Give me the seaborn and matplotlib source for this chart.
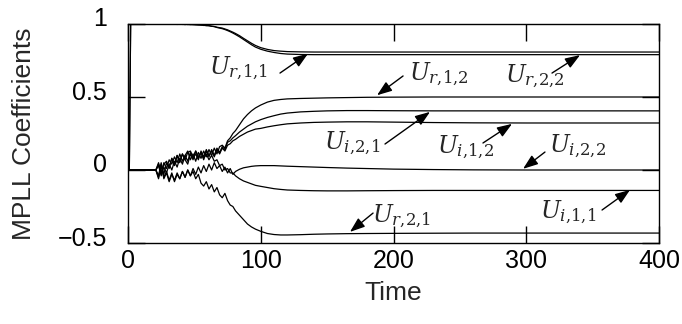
import numpy as np
import pandas as pd
import matplotlib
matplotlib.use("Agg")
import matplotlib.pyplot as plt
import matplotlib.transforms as mtransforms
import seaborn as sns

# ---------------- data ----------------
time = [0, 1, 2, 21, 23, 25, 27, 29, 31, 33, 35, 37, 39, 41, 43, 45, 47, 49,
        51, 53, 55, 57, 59, 61, 63, 65, 67, 69, 71, 73, 75, 77, 79, 81, 84, 87,
        90, 93, 96, 100, 105, 110, 115, 120, 130, 140, 150, 165, 180, 200, 230,
        260, 300, 350, 400]

ur11 = [0, 0, 1.0, 1.0, 0.998, 1.0, 0.999, 1.0, 0.998, 1.0, 0.999, 0.998, 1.0,
        0.997, 0.999, 0.996, 0.998, 0.995, 0.996, 0.993, 0.994, 0.99, 0.991,
        0.988, 0.985, 0.982, 0.978, 0.975, 0.972, 0.966, 0.96, 0.952, 0.944,
        0.935, 0.92, 0.902, 0.885, 0.868, 0.853, 0.838, 0.826, 0.818, 0.814,
        0.811, 0.809, 0.808, 0.808, 0.808, 0.808, 0.808, 0.808, 0.808, 0.808,
        0.808, 0.808]
ur22 = [0, 0, 1.0, 0.999, 1.0, 0.998, 1.0, 0.999, 1.0, 0.998, 1.0, 0.997, 0.999,
        0.998, 0.996, 0.998, 0.995, 0.997, 0.994, 0.995, 0.992, 0.992, 0.988,
        0.989, 0.984, 0.983, 0.976, 0.972, 0.968, 0.962, 0.955, 0.947, 0.938,
        0.928, 0.912, 0.894, 0.876, 0.858, 0.842, 0.827, 0.814, 0.805, 0.798,
        0.794, 0.791, 0.790, 0.790, 0.790, 0.790, 0.790, 0.790, 0.790, 0.790,
        0.790, 0.790]
ur12 = [0, 0, 0, 0, 0.04, -0.03, 0.05, 0.01, 0.07, 0.04, 0.09, 0.05, 0.11, 0.06,
        0.1, 0.13, 0.07, 0.11, 0.06, 0.12, 0.08, 0.13, 0.09, 0.14, 0.1, 0.15,
        0.11, 0.16, 0.17, 0.15, 0.2, 0.22, 0.25, 0.27, 0.31, 0.35, 0.38, 0.405,
        0.425, 0.445, 0.465, 0.477, 0.483, 0.487, 0.49, 0.492, 0.494, 0.496,
        0.498, 0.499, 0.5, 0.5, 0.5, 0.5, 0.5]
ui21 = [0, 0, 0, 0, -0.05, 0.04, -0.03, 0.05, 0.01, 0.08, 0.03, 0.1, 0.05, 0.11,
        0.07, 0.04, 0.11, 0.07, 0.13, 0.08, 0.12, 0.07, 0.13, 0.09, 0.14, 0.1,
        0.15, 0.12, 0.16, 0.14, 0.19, 0.2, 0.22, 0.235, 0.26, 0.28, 0.3, 0.315,
        0.33, 0.345, 0.36, 0.372, 0.383, 0.39, 0.398, 0.402, 0.405, 0.407,
        0.407, 0.406, 0.405, 0.405, 0.405, 0.405, 0.405]
ui12 = [0, 0, 0, 0, 0.03, -0.04, 0.02, -0.02, 0.04, 0.0, 0.06, 0.02, 0.08, 0.04,
        0.1, 0.06, 0.12, 0.08, 0.11, 0.07, 0.13, 0.09, 0.14, 0.1, 0.13, 0.09,
        0.14, 0.11, 0.15, 0.13, 0.17, 0.18, 0.2, 0.21, 0.23, 0.245, 0.26, 0.27,
        0.28, 0.285, 0.295, 0.303, 0.31, 0.316, 0.322, 0.326, 0.328, 0.33, 0.33,
        0.328, 0.325, 0.323, 0.322, 0.322, 0.322]
ui22 = [0, 0, 0, 0, -0.06, 0.03, -0.05, -0.01, -0.07, -0.02, -0.08, -0.03, -0.06,
        -0.01, -0.05, 0.0, -0.04, 0.01, -0.03, 0.02, -0.02, 0.03, -0.01, 0.04,
        0.0, 0.05, 0.01, 0.03, -0.01, 0.02, -0.02, 0.01, -0.03, -0.01, 0.005,
        0.015, 0.02, 0.025, 0.028, 0.03, 0.03, 0.03, 0.028, 0.026, 0.023, 0.02,
        0.017, 0.013, 0.01, 0.006, 0.003, 0.001, 0.0, 0.0, 0.0]
ui11 = [0, 0, 0, 0, 0.05, -0.02, 0.04, 0.06, 0.02, 0.08, 0.04, 0.1, 0.06, 0.11,
        0.07, 0.12, 0.13, 0.09, 0.13, 0.09, 0.12, 0.08, 0.11, 0.07, 0.1, 0.06,
        0.07, 0.03, 0.04, 0.0, 0.01, -0.02, -0.02, -0.04, -0.06, -0.075, -0.085,
        -0.095, -0.105, -0.112, -0.12, -0.128, -0.133, -0.137, -0.14, -0.142,
        -0.143, -0.143, -0.142, -0.141, -0.14, -0.14, -0.14, -0.14, -0.14]
ur21 = [0, 0, 0, 0, -0.04, 0.05, -0.06, -0.02, -0.08, -0.03, -0.07, -0.02, -0.06,
        -0.01, -0.05, 0.0, -0.04, -0.01, -0.06, -0.03, -0.09, -0.11, -0.08,
        -0.13, -0.1, -0.15, -0.12, -0.17, -0.19, -0.16, -0.21, -0.24, -0.25,
        -0.28, -0.31, -0.34, -0.37, -0.39, -0.405, -0.42, -0.435, -0.442,
        -0.445, -0.445, -0.443, -0.44, -0.438, -0.436, -0.435, -0.434, -0.433,
        -0.432, -0.432, -0.432, -0.432]

series_names = ["ur11", "ur22", "ur12", "ui21", "ui12", "ui22", "ui11", "ur21"]
series_values = [ur11, ur22, ur12, ui21, ui12, ui22, ui11, ur21]

x_ticks = [0, 100, 200, 300, 400]
y_ticks = [-0.5, 0, 0.5, 1]

# labels: (text, text position, arrow tail, arrow head)
labels = [
    (r"$U_{r{,}1{,}1}$", (82.9, 0.70), (114.5, 0.664), (135.6, 0.797)),
    (r"$U_{r{,}1{,}2}$", (234.3, 0.658), (207.2, 0.644), (187.6, 0.512)),
    (r"$U_{r{,}2{,}2}$", (306.6, 0.644), (319.4, 0.664), (340.5, 0.787)),
    (r"$U_{i{,}2{,}1}$", (168.7, 0.185), (193.6, 0.178), (227.5, 0.398)),
    (r"$U_{i{,}1{,}2}$", (254.6, 0.158), (267.4, 0.185), (289.3, 0.316)),
    (r"$U_{i{,}2{,}2}$", (339.0, 0.164), (314.1, 0.123), (297.6, 0.008)),
    (r"$U_{i{,}1{,}1}$", (331.5, -0.288), (357.1, -0.274), (378.2, -0.136)),
    (r"$U_{r{,}2{,}1}$", (206.4, -0.315), (184.6, -0.295), (167.2, -0.424)),
]

# ---------------- build frame ----------------
frames = []
for name, vals in zip(series_names, series_values):
    frames.append(pd.DataFrame({"Time": time, "value": vals, "series": name}))
df = pd.concat(frames, ignore_index=True)

sns.set_style("ticks")
plt.rcParams["font.family"] = ["Liberation Sans", "DejaVu Sans"]
plt.rcParams["mathtext.fontset"] = "dejavuserif"
plt.rcParams["axes.unicode_minus"] = True

fig = plt.figure(figsize=(6.82, 3.24), dpi=100)
ax = fig.add_axes([128 / 682, 1 - 243 / 324, 531 / 682, 219 / 324])

sns.lineplot(data=df, x="Time", y="value", hue="series", units="series",
             estimator=None, sort=False,
             palette={n: "black" for n in series_names}, linewidth=0.9,
             legend=False, ax=ax)

ax.set_xlim(0, 400)
ax.set_ylim(-0.5, 1)
ax.set_xticks(x_ticks)
ax.set_yticks(y_ticks)
ax.set_xticklabels([str(v) for v in x_ticks])
ax.set_yticklabels(["\u22120.5", "0", "0.5", "1"])

for s in ax.spines.values():
    s.set_visible(True)
    s.set_linewidth(1.0)
    s.set_color("black")

ax.tick_params(axis="both", direction="in", length=12.5, width=1.0,
               top=True, right=True, labelsize=18, colors="black")
ax.tick_params(axis="y", pad=15)
ax.tick_params(axis="x", pad=4)

offset = mtransforms.ScaledTranslation(0, 7 / 100, fig.dpi_scale_trans)
for lab in ax.get_yticklabels():
    lab.set_transform(lab.get_transform() + offset)

ax.set_xlabel("Time", fontsize=19, labelpad=6)
ax.set_ylabel("MPLL Coefficients", fontsize=19, labelpad=16)

for txt, tpos, tail, head in labels:
    ax.text(tpos[0], tpos[1], txt, fontsize=17, ha="center", va="center")
    ax.annotate("", xy=head, xytext=tail,
                arrowprops=dict(arrowstyle="-|>,head_length=0.6,head_width=0.22",
                                color="black", lw=1.0, mutation_scale=15,
                                shrinkA=0, shrinkB=0))

fig.savefig("out.png", dpi=100)
